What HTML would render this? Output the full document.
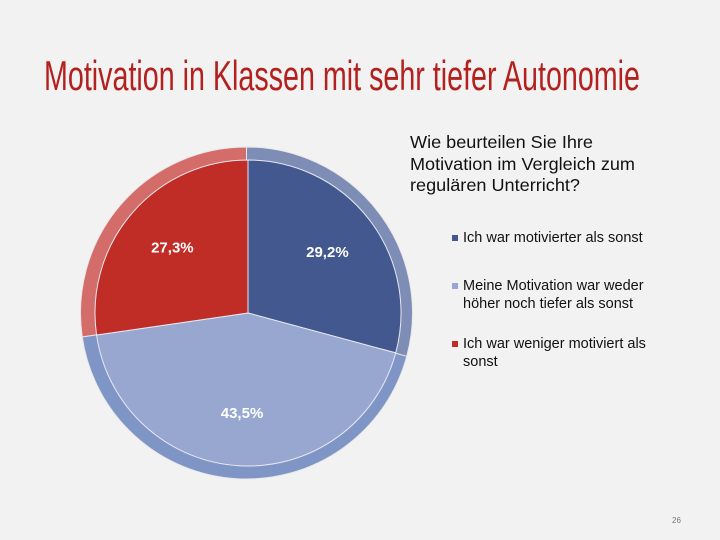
<!DOCTYPE html>
<html><head><meta charset="utf-8"><style>
html,body{margin:0;padding:0;background:#f2f2f2;}
svg{display:block;font-family:"Liberation Sans",sans-serif;}
</style></head><body>
<svg id="c" width="720" height="540" viewBox="0 0 720 540">
<rect width="720" height="540" fill="#f2f2f2"/>
<text x="44" y="90" font-size="42" fill="#b3211f" textLength="596" lengthAdjust="spacingAndGlyphs">Motivation in Klassen mit sehr tiefer Autonomie</text>
<g id="pie"></g>
<g font-size="17.5" fill="#111">
<text x="410" y="148" textLength="183" lengthAdjust="spacingAndGlyphs">Wie beurteilen Sie Ihre</text>
<text x="410" y="170" textLength="225" lengthAdjust="spacingAndGlyphs">Motivation im Vergleich zum</text>
<text x="410" y="191" textLength="170" lengthAdjust="spacingAndGlyphs">regulären Unterricht?</text>
</g>
<g id="legend" font-size="14.5" fill="#111"></g>
<text x="672" y="523" font-size="8" fill="#777">26</text>
</svg>
<script>
const categories=["Ich war motivierter als sonst","Meine Motivation war weder höher noch tiefer als sonst","Ich war weniger motiviert als sonst"];
const values=[29.2,43.5,27.3];
const labels=["29,2%","43,5%","27,3%"];
const colors=["#42588f","#97a7d0","#c02d27"];
const rimColors=["#7d8db6","#7f95c6","#d46c69"];
const legendLines=[["Ich war motivierter als sonst"],["Meine Motivation war weder","höher noch tiefer als sonst"],["Ich war weniger motiviert als","sonst"]];
const legendY=[242,290,348];
const NS="http://www.w3.org/2000/svg";
const pie=document.getElementById('pie');
const total=values.reduce((a,b)=>a+b,0);
function pt(cx,cy,r,a){return [cx+r*Math.sin(a),cy-r*Math.cos(a)];}
function arc(cx,cy,r,a0,a1){const p0=pt(cx,cy,r,a0),p1=pt(cx,cy,r,a1);const l=(a1-a0)>Math.PI?1:0;return `M${cx},${cy}L${p0[0]},${p0[1]}A${r},${r} 0 ${l} 1 ${p1[0]},${p1[1]}Z`;}
function drawLayer(cx,cy,r,cols,name,stroke){
let a=0;
values.forEach((v,i)=>{const a1=a+v/total*2*Math.PI;const p=document.createElementNS(NS,'path');
p.setAttribute('d',arc(cx,cy,r,a,a1));p.setAttribute('fill',cols[i]);p.setAttribute('stroke',stroke);p.setAttribute('stroke-width','1');


pie.appendChild(p);a=a1;});
}
drawLayer(246.5,313,166,rimColors,'slice-rim','#e8e8e8');
drawLayer(248,313,153,colors,'slice','#e8e8f0');
let a=0;
values.forEach((v,i)=>{const mid=a+v/total*Math.PI;a+=v/total*2*Math.PI;
const p=pt(248,313,100,mid);const t=document.createElementNS(NS,'text');
t.setAttribute('x',p[0]);t.setAttribute('y',p[1]+5);t.setAttribute('text-anchor','middle');
t.setAttribute('font-size','15');t.setAttribute('font-weight','bold');t.setAttribute('fill','#fff');
t.textContent=labels[i];


pie.appendChild(t);});
const lg=document.getElementById('legend');
categories.forEach((c,i)=>{
const g=document.createElementNS(NS,'g');


const r=document.createElementNS(NS,'rect');
r.setAttribute('x',452);r.setAttribute('y',legendY[i]-7);r.setAttribute('width',6);r.setAttribute('height',6);r.setAttribute('fill',colors[i]);


g.appendChild(r);
legendLines[i].forEach((ln,j)=>{const t=document.createElementNS(NS,'text');
t.setAttribute('x',463);t.setAttribute('y',legendY[i]+j*18);t.textContent=ln;


g.appendChild(t);});
lg.appendChild(g);});
</script>
</body></html>
